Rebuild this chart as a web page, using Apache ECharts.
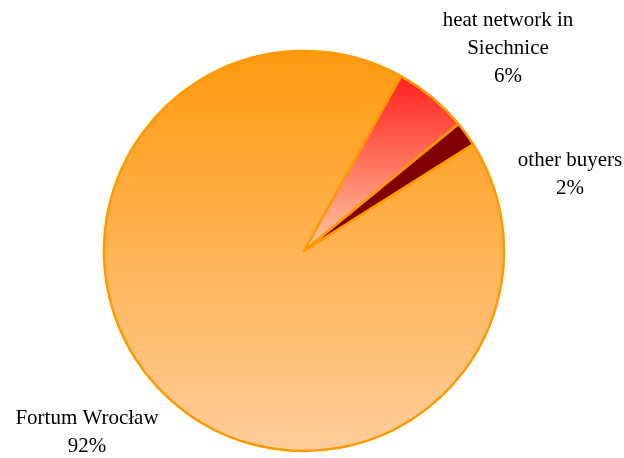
<!DOCTYPE html>
<html>
<head>
<meta charset="utf-8">
<script src="https://cdn.jsdelivr.net/npm/echarts@6/dist/echarts.min.js"></script>
<style>
  html, body { margin: 0; padding: 0; background: #fff; }
  #chart { width: 624px; height: 458px; }
</style>
</head>
<body>
<div id="chart"></div>
<script>
// data
const categories = ["heat network in\nSiechnice", "other buyers", "Fortum Wrocław"];
const shares = [6, 2, 92];

const fills = [
  { type: "linear", x: 0, y: 0, x2: 0, y2: 1,
    colorStops: [{ offset: 0, color: "#FF1E1E" }, { offset: 1, color: "#FFCBA3" }] },
  "#800000",
  { type: "linear", x: 0, y: 0, x2: 0, y2: 1,
    colorStops: [{ offset: 0, color: "#FF990D" }, { offset: 1, color: "#FFCD9B" }] }
];
// label anchor positions (px)
const labelPos = [[508, 48], [570, 174], [87, 432]];

let myChart = echarts.init(document.getElementById("chart"));
let option = {
  animation: false,
  series: [
    {
      type: "pie",
      center: [304, 251],
      radius: 200,
      startAngle: 61,
      clockwise: true,
      data: categories.map((name, i) => ({
        name: name,
        value: shares[i],
        itemStyle: { color: fills[i] }
      })),
      itemStyle: {
        borderColor: "#FF9900",
        borderWidth: 2.5
      },
      label: {
        show: true,
        position: "outside",
        formatter: "{b}\n{d}%",
        fontFamily: "Liberation Serif",
        fontSize: 21,
        lineHeight: 28,
        color: "#000",
        align: "center",
        overflow: "none"
      },
      labelLine: { show: false },
      labelLayout: function (params) {
        let p = labelPos[params.dataIndex];
        return { x: p[0], y: p[1], align: "center", verticalAlign: "middle" };
      }
    }
  ]
};
myChart.setOption(option);
</script>
</body>
</html>
